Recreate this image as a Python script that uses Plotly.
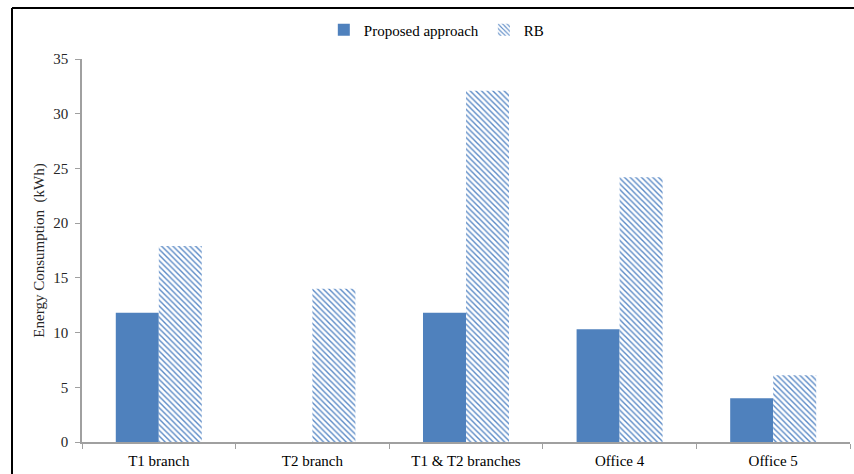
import plotly.graph_objects as go

categories = ["T1 branch", "T2 branch", "T1 & T2 branches", "Office 4", "Office 5"]
proposed = [11.8, 0, 11.8, 10.3, 4.0]
rb = [17.9, 14.0, 32.1, 24.2, 6.1]

BLUE = "#4F81BD"
FONT = "Liberation Serif, Times New Roman, serif"

fig = go.Figure()
fig.add_trace(go.Bar(
    x=categories, y=proposed, name="Proposed approach",
    marker=dict(color=BLUE, line=dict(width=0)),
))
fig.add_trace(go.Bar(
    x=categories, y=rb, name="RB",
    marker=dict(color="white", line=dict(width=0),
                pattern=dict(shape="\\", fgcolor="#5B8AC6", bgcolor="white",
                             size=4, solidity=0.35, fillmode="replace")),
))

L, R, T, B = 82, 4, 59, 32
W, H = 854, 474
pw, ph = W - L - R, H - T - B

def px_x(p):
    return (p - L) / pw

def px_y(p):
    return (H - B - p) / ph

fig.update_layout(
    width=W, height=H,
    margin=dict(l=L, r=R, t=T, b=B),
    paper_bgcolor="white", plot_bgcolor="white",
    barmode="group", bargap=0.44, bargroupgap=0,
    font=dict(family=FONT, size=15, color="#262626"),
    showlegend=True,
    legend=dict(orientation="h", x=0.462, xanchor="center", y=px_y(30), yanchor="middle",
                font=dict(family=FONT, size=15, color="#000000"),
                itemwidth=30, traceorder="normal"),
    xaxis=dict(showline=True, linecolor="#A0A0A0", linewidth=1.5,
               ticks="outside", tickson="boundaries", ticklen=5, tickcolor="#A0A0A0",
               tickfont=dict(family=FONT, size=15, color="#000000"),
               ticklabelstandoff=4,
               showgrid=False, zeroline=False),
    yaxis=dict(range=[0, 35], dtick=5, showline=True, linecolor="#A0A0A0", linewidth=1.5,
               ticks="outside", ticklen=5, tickcolor="#A0A0A0",
               tickfont=dict(family=FONT, size=15, color="#262626"),
               ticklabelstandoff=4,
               showgrid=False, zeroline=False,
               title=dict(text="Energy Consumption  (kWh)", standoff=5,
                          font=dict(family=FONT, size=15, color="#262626"))),
    shapes=[
        dict(type="line", xref="paper", yref="paper",
             x0=px_x(12), x1=px_x(870), y0=px_y(8), y1=px_y(8),
             line=dict(color="black", width=2)),
        dict(type="line", xref="paper", yref="paper",
             x0=px_x(12), x1=px_x(12), y0=px_y(8), y1=px_y(490),
             line=dict(color="black", width=2)),
    ],
)

fig.write_html("out.html",
               config={"displayModeBar": False},
               post_script="document.body.style.margin='0';document.body.style.overflow='hidden';")
